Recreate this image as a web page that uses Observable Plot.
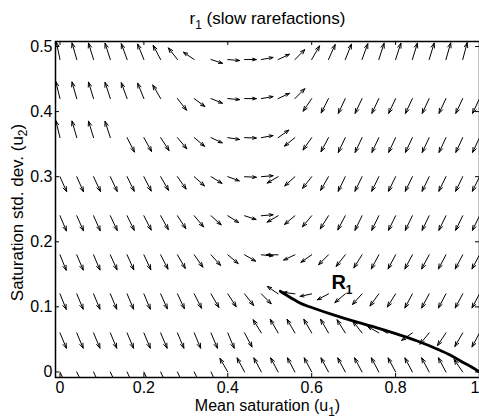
<!DOCTYPE html>
<html><head><meta charset="utf-8">
<script src="https://cdn.jsdelivr.net/npm/d3@7"></script>
<script src="https://cdn.jsdelivr.net/npm/@observablehq/plot@0.6"></script>
<style>
body{margin:0;background:#fff;}
#chart svg{display:block;}
</style></head><body><div id="chart"></div>
<script>
// grid of the vector field (u1 across, u2 up)
const xGrid = [0,0.04,0.08,0.12,0.16,0.2,0.24,0.28,0.32,0.36,0.4,0.44,0.48,0.52,0.56,0.6,0.64,0.68,0.72,0.76,0.8,0.84,0.88,0.92,0.96,1];
const yGrid = [0,0.06,0.12,0.18,0.24,0.3,0.36,0.42,0.48];

// direction of r1 (degrees, in data units) at each grid point; null = no arrow
const dirRow000 = [-54,-54,-54,-54,-54,-54,-54,-54,-54,-54,132,129.5,129.5,129.5,129.5,129.5,129.5,129.5,129.5,129.5,129.5,129.5,129.5,129.5,137,null];
const dirRow006 = [-57,-57,-57,-57,-57,-57,-57,-57,-57,-57,-57,-50.5,134,132,132,132,132,134,140.5,159.6,175,-156,-142,-136,-132,-129.5];
const dirRow012 = [-58,-57,-57,-57,-57,-57,-55.4,-54,-51.7,-48,-44.7,-39.5,-33,156,175,-172,-161,-151.6,-144.4,-138.4,-134.2,-129.5,-129.5,-129.5,-129.5,-129.5];
const dirRow018 = [-58,-56.7,-56.7,-55.4,-55.4,-54.1,-51.7,-48.2,-42.6,-35.6,-28.4,-20.4,-3.2,180,-163.3,-155.7,-147.2,-140.5,-134.2,-129.5,-129.5,-129.5,-129.5,-129.5,-129.5,-129.5];
const dirRow024 = [-56.7,-55.4,-55.4,-54.1,-52.9,-51.7,-49.3,-44.7,-37.6,-30.1,-22,-11.8,3.2,-159.6,-151.6,-142.4,-134.2,-129.5,-127,-127,-127,-127,-127,-127,-127,-127];
const dirRow030 = [-55.4,-55.4,-54.1,-54.1,-52.9,-51.7,-48.2,-42.6,-30.1,-21.2,-13.2,-1.9,3.2,-159.6,-149.9,-140.5,-131.8,-127,-127,-127,-127,-127,-127,-127,-127,-127];
const dirRow036 = [111,114,115.4,116.7,-51.7,-49.3,-44.7,-37.6,-28.4,-16.7,-5.8,-1.3,6.5,24.3,-152.4,-137.4,-129.5,-126,-126,-126,-126,-126,-126,-126,-126,-126];
const dirRow042 = [111,114,115.4,116.7,119.5,122,131.8,-39.5,-25.9,-14.6,-3.2,0,6.5,16.7,32.8,-136.3,-128.3,-126,-126,-126,-126,-126,-126,-126,-126,-126];
const dirRow048 = [108,114,115.4,116.7,119.5,122,129.5,140.5,156.5,-11.8,-3.2,0,6.5,16.7,32.8,48.2,55.4,58,60.5,63.3,63.3,64.6,64.6,66,67.5,67.5];
const dirRows = [dirRow000,dirRow006,dirRow012,dirRow018,dirRow024,dirRow030,dirRow036,dirRow042,dirRow048];

// R1 rarefaction curve
const curveU1 = [0.525,0.55,0.575,0.6,0.65,0.7,0.75,0.8,0.85,0.9,0.93,0.96,0.98,1.0];
const curveU2 = [0.124,0.114,0.105,0.099,0.088,0.078,0.069,0.059,0.048,0.035,0.026,0.015,0.008,0.0];

// ticks and texts
const xTicks = [0,0.2,0.4,0.6,0.8,1];
const xTickLabels = ["0","0.2","0.4","0.6","0.8","1"];
const yTicks = [0,0.1,0.2,0.3,0.4,0.5];
const yTickLabels = ["0","0.1","0.2","0.3","0.4","0.5"];
const titleText = ["r_1 (slow rarefactions)"];
const xLabelText = ["Mean saturation (u_1)"];
const yLabelText = ["Saturation std. dev. (u_2)"];
const curveLabel = [{u1: 0.647, u2: 0.127, text: "R_1"}];

const quiverScale = 0.028;
const arrows = [];
yGrid.forEach((y, j) => xGrid.forEach((x, i) => {
  const a = dirRows[j][i];
  if (a == null) return;
  const t = a * Math.PI / 180;
  arrows.push({x1: x, y1: y, x2: x + quiverScale * Math.cos(t), y2: y + quiverScale * Math.sin(t)});
}));
const curve = curveU1.map((u, i) => ({u1: u, u2: curveU2[i]}));

const W = 479, H = 418, ML = 55, MR = 0, MT = 41, MB = 41;
const innerW = W - ML - MR, innerH = H - MT - MB, tick = 4;
const xFmt = d => xTickLabels[xTicks.indexOf(d)];

const plot = Plot.plot({
  width: W, height: H,
  marginLeft: ML, marginRight: MR, marginTop: MT, marginBottom: MB,
  style: {fontFamily: "'Liberation Sans', Arial, Helvetica, sans-serif", fontSize: "16px", background: "white", color: "black", overflow: "visible"},
  x: {domain: [-0.0107, 1.0]},
  y: {domain: [-0.0085, 0.5077], ticks: yTicks, tickFormat: d => yTickLabels[yTicks.indexOf(d)], tickSize: 0, tickPadding: 3, label: null},
  marks: [
    Plot.axisX(xTicks.slice(0, -1), {tickSize: 0, tickPadding: 4, tickFormat: xFmt, label: null}),
    Plot.axisX(xTicks.slice(-1), {tickSize: 0, tickPadding: 4, tickFormat: xFmt, textAnchor: "end", label: null}),
    Plot.arrow(arrows, {x1: "x1", y1: "y1", x2: "x2", y2: "y2", stroke: "black", strokeWidth: 1, headLength: 7.5, headAngle: 40, clip: true}),
    Plot.line(curve, {x: "u1", y: "u2", stroke: "black", strokeWidth: 2.8, curve: "monotone-x", clip: true}),
    Plot.ruleX(xTicks, {stroke: "black", insetTop: innerH - tick}),
    Plot.ruleX(xTicks, {stroke: "black", insetBottom: innerH - tick}),
    Plot.ruleY(yTicks, {stroke: "black", insetRight: innerW - tick}),
    Plot.ruleY(yTicks, {stroke: "black", insetLeft: innerW - tick}),
    Plot.frame({stroke: "black", strokeWidth: 1.5}),
    Plot.text(curveLabel, {x: "u1", y: "u2", text: "text", textAnchor: "start", lineAnchor: "bottom", fontWeight: "bold", fontSize: 20}),
    Plot.text(titleText, {text: d => d, frameAnchor: "top", dy: -17.5, textAnchor: "middle", lineAnchor: "bottom", fontSize: 17}),
    Plot.text(xLabelText, {text: d => d, frameAnchor: "bottom", dy: 33.5, textAnchor: "middle", lineAnchor: "bottom", fontSize: 16}),
    Plot.text(yLabelText, {text: d => d, frameAnchor: "left", dx: -33, dy: 3, rotate: -90, textAnchor: "middle", lineAnchor: "bottom", fontSize: 17})
  ]
});

// render "_x" as a subscript
d3.select(plot).selectAll("text").each(function() {
  const s = this.textContent;
  if (!s.includes("_")) return;
  const fs = parseFloat(getComputedStyle(this).fontSize) || 17;
  const bold = getComputedStyle(this).fontWeight;
  const ratio = (+bold >= 600 || bold === "bold") ? 0.8 : 0.7;
  const shift = fs * 0.28;
  const parts = s.split(/_(\w)/);
  const el = d3.select(this);
  el.text(null);
  let pending = 0;
  parts.forEach((p, k) => {
    if (p === "") return;
    if (k % 2 === 1) {
      el.append("tspan").attr("font-size", (fs * ratio) + "px").attr("dy", shift - pending).text(p);
      pending = shift;
    } else {
      const t = el.append("tspan").text(p);
      if (pending) { t.attr("dy", -pending); pending = 0; }
    }
  });
});

document.getElementById("chart").appendChild(plot);
</script>
</body></html>
